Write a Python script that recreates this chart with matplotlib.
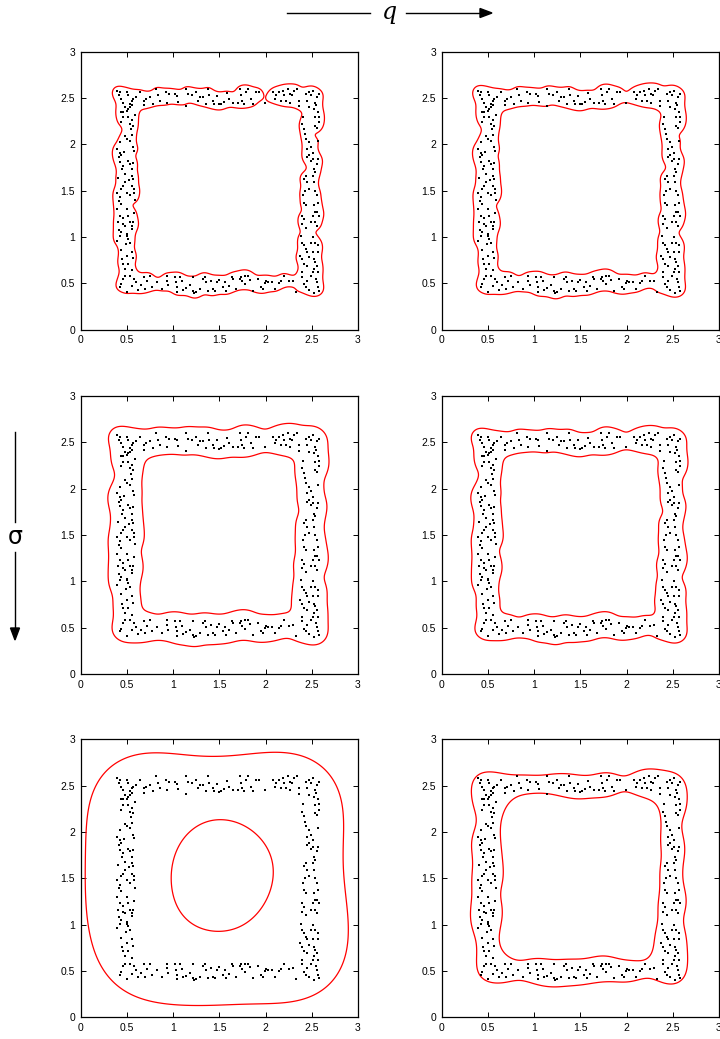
import numpy as np
import matplotlib
matplotlib.use("Agg")
import matplotlib.pyplot as plt
from matplotlib.lines import Line2D

# sample points (same data set in every panel)
top_x = [0.39, 0.42, 0.41, 0.44, 0.46, 0.50, 0.51, 0.53, 0.55, 0.57, 0.48, 0.44, 0.46, 0.50,
         0.51, 0.53, 0.56, 0.60, 0.64, 0.68, 0.68, 0.71, 0.75, 0.78, 0.82, 0.84, 0.86, 0.92,
         0.93, 0.96, 1.02, 1.04, 1.05, 1.14, 1.14, 1.16, 1.20, 1.25, 1.27, 1.29, 1.32, 1.36,
         1.38, 1.39, 1.43, 1.44, 1.52, 1.65, 1.70, 1.72, 1.74, 1.75, 1.77, 1.79, 1.81, 1.84,
         1.86, 1.90, 1.93, 1.99, 2.08, 2.10, 2.11, 2.15, 2.17, 2.19, 2.20, 2.22, 2.24, 2.26,
         2.27, 2.29, 2.31, 2.34, 2.36, 2.36, 2.44, 2.45, 2.47, 2.49, 2.51, 2.54, 2.56, 2.58,
         1.48, 1.55, 1.58, 1.61, 1.50]
top_y = [2.58, 2.56, 2.53, 2.49, 2.45, 2.56, 2.53, 2.44, 2.47, 2.49, 2.40, 2.35, 2.35, 2.36,
         2.38, 2.40, 2.42, 2.51, 2.56, 2.47, 2.42, 2.49, 2.51, 2.44, 2.60, 2.53, 2.47, 2.56,
         2.45, 2.54, 2.54, 2.52, 2.46, 2.41, 2.60, 2.54, 2.53, 2.56, 2.47, 2.51, 2.51, 2.44,
         2.60, 2.53, 2.47, 2.44, 2.44, 2.45, 2.45, 2.60, 2.53, 2.47, 2.44, 2.56, 2.60, 2.49,
         2.44, 2.56, 2.56, 2.45, 2.56, 2.49, 2.53, 2.56, 2.47, 2.58, 2.53, 2.47, 2.60, 2.54,
         2.45, 2.53, 2.58, 2.60, 2.41, 2.47, 2.54, 2.47, 2.56, 2.53, 2.58, 2.45, 2.51, 2.54,
         2.52, 2.46, 2.55, 2.49, 2.43]

bottom_x = [0.48, 0.46, 0.44, 0.42, 0.50, 0.60, 0.68, 0.70, 0.77, 0.83, 0.93, 0.93, 0.95, 1.02,
            1.03, 1.04, 1.04, 1.07, 1.11, 1.14, 1.21, 1.22, 1.23, 1.25, 1.29, 1.32, 1.34, 1.36,
            1.41, 1.43, 1.45, 1.47, 1.50, 1.54, 1.56, 1.57, 1.64, 1.65, 1.68, 1.72, 1.74, 1.75,
            1.78, 1.81, 1.83, 1.86, 1.95, 1.97, 1.99, 2.01, 2.03, 2.07, 2.15, 2.17, 2.25, 2.33,
            2.40, 2.42, 2.44, 2.47, 2.55, 2.56, 2.57, 2.58, 2.49, 2.51, 0.55, 0.62, 0.88, 1.10,
            1.18, 1.60, 1.92, 2.10, 2.20, 2.30, 0.75, 1.38, 1.78, 2.52, 2.45, 0.58, 0.65, 0.72]
bottom_y = [0.58, 0.55, 0.49, 0.46, 0.41, 0.51, 0.57, 0.44, 0.46, 0.51, 0.58, 0.53, 0.48, 0.57,
            0.51, 0.46, 0.41, 0.57, 0.43, 0.45, 0.57, 0.42, 0.40, 0.41, 0.44, 0.55, 0.57, 0.51,
            0.53, 0.44, 0.42, 0.51, 0.54, 0.46, 0.51, 0.42, 0.57, 0.55, 0.44, 0.55, 0.57, 0.52,
            0.58, 0.58, 0.54, 0.42, 0.46, 0.44, 0.50, 0.52, 0.51, 0.51, 0.50, 0.52, 0.52, 0.41,
            0.57, 0.49, 0.46, 0.43, 0.55, 0.51, 0.46, 0.42, 0.58, 0.62, 0.47, 0.43, 0.44, 0.52,
            0.48, 0.47, 0.55, 0.44, 0.58, 0.53, 0.58, 0.42, 0.49, 0.40, 0.53, 0.55, 0.48, 0.52]

left_x = [0.39, 0.42, 0.41, 0.44, 0.42, 0.46, 0.45, 0.48, 0.51, 0.53, 0.55, 0.57, 0.58, 0.56,
          0.57, 0.55, 0.58, 0.58, 0.42, 0.41, 0.39, 0.44, 0.46, 0.48, 0.53, 0.50, 0.51, 0.53,
          0.48, 0.46, 0.42, 0.40, 0.39, 0.42, 0.44, 0.50, 0.51, 0.53, 0.49, 0.55, 0.55, 0.57,
          0.50, 0.55, 0.53, 0.54, 0.53, 0.50, 0.48, 0.57, 0.59, 0.51, 0.46, 0.44, 0.45, 0.46,
          0.48, 0.51, 0.53, 0.55, 0.57, 0.50, 0.40, 0.44, 0.52, 0.57, 0.41, 0.58, 0.47, 0.55,
          0.43, 0.59, 0.39, 0.50, 0.46, 0.56, 0.44]
left_y = [1.95, 1.91, 1.86, 1.88, 1.81, 1.77, 1.73, 1.68, 1.82, 1.79, 1.73, 1.97, 1.93, 1.66,
          1.63, 1.55, 1.52, 1.48, 1.43, 1.39, 1.30, 1.52, 1.55, 1.59, 1.45, 1.30, 1.23, 1.16,
          1.12, 1.14, 1.23, 1.16, 0.96, 1.01, 1.05, 1.01, 0.98, 0.94, 0.92, 1.12, 1.09, 1.16,
          1.03, 2.26, 2.22, 2.16, 2.04, 2.06, 2.09, 2.20, 2.32, 2.29, 2.29, 2.24, 0.76, 0.71,
          0.66, 0.71, 0.58, 0.84, 0.77, 0.80, 1.64, 1.36, 1.62, 1.80, 1.08, 1.26, 1.92, 2.10,
          2.02, 1.40, 1.48, 1.48, 1.20, 0.64, 0.86]

right_x = [2.40, 2.42, 2.43, 2.44, 2.45, 2.47, 2.49, 2.45, 2.51, 2.53, 2.54, 2.56, 2.57, 2.47,
           2.49, 2.51, 2.54, 2.56, 2.58, 2.57, 2.57, 2.54, 2.44, 2.45, 2.47, 2.42, 2.51, 2.53,
           2.54, 2.56, 2.57, 2.53, 2.54, 2.51, 2.49, 2.54, 2.56, 2.42, 2.44, 2.40, 2.42, 2.40,
           2.44, 2.38, 2.40, 2.42, 2.44, 2.45, 2.47, 2.51, 2.53, 2.54, 2.56, 2.57, 2.53, 2.49,
           2.51, 2.54, 2.57, 2.57, 2.39, 2.42, 2.45, 2.56, 2.58, 2.43, 2.41, 2.37, 2.39, 2.52,
           2.58, 2.47, 2.41, 2.55]
right_y = [2.22, 2.17, 2.11, 2.06, 1.95, 1.88, 1.82, 1.86, 1.84, 1.73, 1.70, 1.79, 1.84, 2.02,
           1.97, 1.91, 2.20, 2.18, 2.24, 2.04, 2.35, 2.29, 1.66, 1.59, 1.52, 1.63, 1.66, 1.59,
           1.50, 1.45, 1.37, 1.34, 1.27, 1.23, 1.16, 1.16, 1.12, 1.37, 1.34, 1.23, 1.19, 1.14,
           1.10, 1.01, 0.94, 0.91, 0.87, 0.84, 0.78, 0.84, 0.76, 0.73, 0.69, 0.62, 0.66, 0.94,
           1.00, 0.94, 0.91, 0.84, 0.76, 0.71, 0.69, 1.27, 1.23, 1.50, 1.45, 0.80, 0.62, 2.38,
           2.30, 2.40, 2.30, 2.42]

# kernel width and contour level (fraction of max) for each panel, row by row
kernel_width = [0.055, 0.06, 0.08, 0.07, 0.42, 0.12]
contour_level = [0.22, 0.2, 0.14, 0.17, 0.53, 0.36]

ticks = [0, 0.5, 1, 1.5, 2, 2.5, 3]
tick_labels = ["0", "0.5", "1", "1.5", "2", "2.5", "3"]

px = np.array(top_x + bottom_x + left_x + right_x)
py = np.array(top_y + bottom_y + left_y + right_y)

gx = np.linspace(0, 3, 301)
GX, GY = np.meshgrid(gx, gx)
d2 = (GX[..., None] - px) ** 2 + (GY[..., None] - py) ** 2

plt.rcParams['font.family'] = ['Liberation Sans', 'DejaVu Sans']
fig = plt.figure(figsize=(7.2, 10.39), dpi=100)

lefts = [0.1121, 0.6135]
bottoms = [0.6827, 0.3513, 0.0209]
w, h = 0.385, 0.2676

for i in range(6):
    r, c = divmod(i, 2)
    ax = fig.add_axes([lefts[c], bottoms[r], w, h])
    dens = np.exp(-d2 / (2 * kernel_width[i] ** 2)).sum(axis=2)
    dens = dens / dens.max()
    ax.contour(GX, GY, dens, levels=[contour_level[i]], colors='red', linewidths=0.9)
    ax.plot(px, py, 's', color='black', ms=1.5, mew=0)
    ax.set_xlim(0, 3)
    ax.set_ylim(0, 3)
    ax.set_xticks(ticks)
    ax.set_yticks(ticks)
    ax.set_xticklabels(tick_labels)
    ax.set_yticklabels(tick_labels)
    ax.tick_params(direction='in', length=3.5, width=0.7, labelsize=7.5,
                   top=True, right=True, pad=4)
    for s in ax.spines.values():
        s.set_linewidth(0.9)

# parameter arrows
fig.add_artist(Line2D([287 / 720, 370 / 720], [1 - 13 / 1039] * 2, color='black', lw=1))
fig.text(389 / 720, 1 - 13 / 1039, "q", family='DejaVu Serif', style='italic',
         fontsize=17, ha='center', va='center')
fig.add_artist(Line2D([406 / 720, 485 / 720], [1 - 13 / 1039] * 2, color='black', lw=1))
fig.add_artist(Line2D([15 / 720] * 2, [1 - 432 / 1039, 1 - 522 / 1039], color='black', lw=1))
fig.text(15 / 720, 1 - 537 / 1039, "σ", family='DejaVu Sans', fontsize=17,
         ha='center', va='center')
fig.add_artist(Line2D([15 / 720] * 2, [1 - 552 / 1039, 1 - 632 / 1039], color='black', lw=1))
fig.patches.append(matplotlib.patches.FancyArrow(
    480 / 720, 1 - 13 / 1039, 12 / 720, 0, width=0, head_width=9 / 1039,
    head_length=12 / 720, length_includes_head=True, color='black',
    transform=fig.transFigure, figure=fig))
fig.patches.append(matplotlib.patches.FancyArrow(
    15 / 720, 1 - 628 / 1039, 0, -12 / 1039, width=0, head_width=9 / 720,
    head_length=12 / 1039, length_includes_head=True, color='black',
    transform=fig.transFigure, figure=fig))

fig.savefig("out.png", dpi=100)
